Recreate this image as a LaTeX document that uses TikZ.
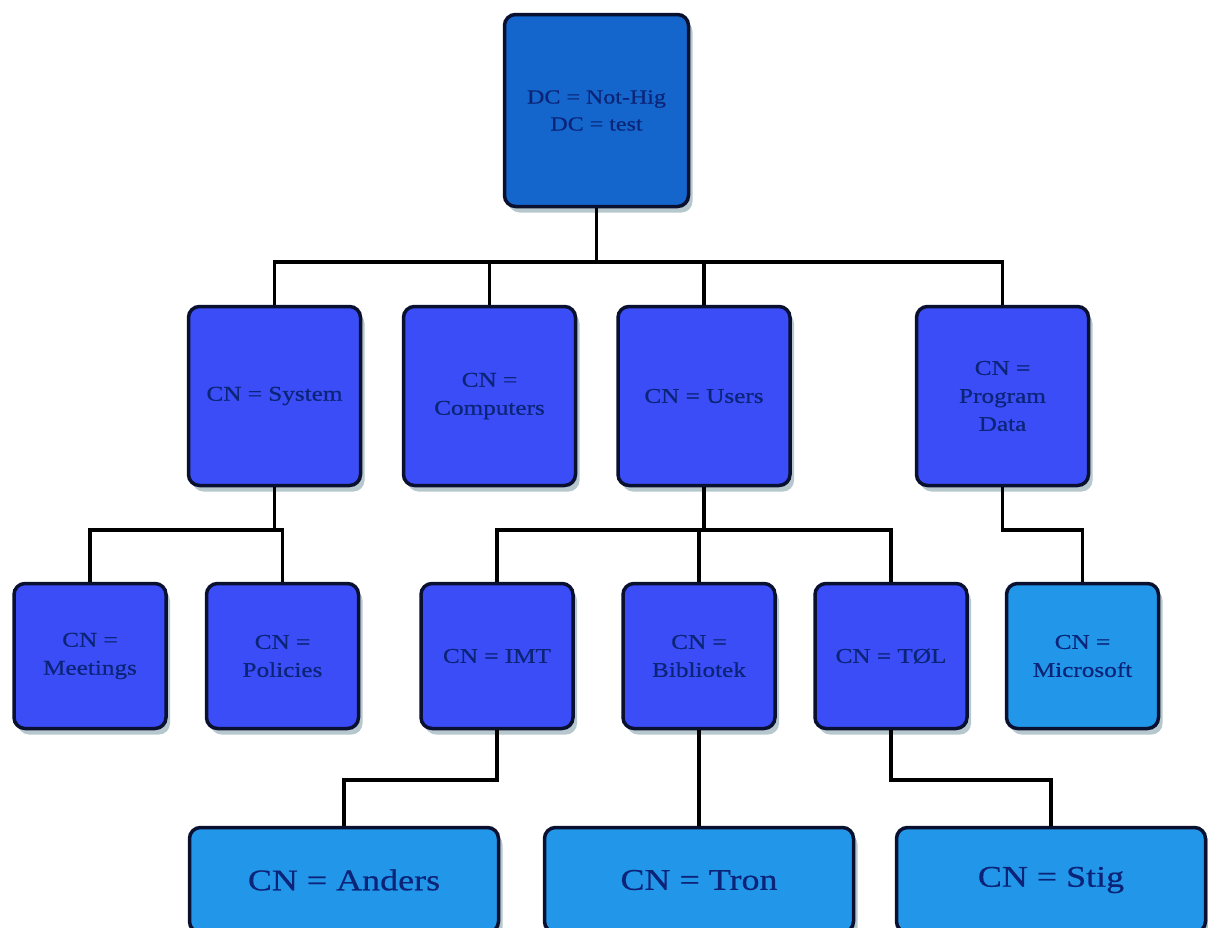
\documentclass[tikz,border=0pt]{standalone}
\usepackage{fontspec}
\setmainfont{Liberation Serif}[FakeStretch=1.2,FakeBold=0.6]
\usetikzlibrary{shadows}

\definecolor{rootblue}{HTML}{1466CC}
\definecolor{midblue}{HTML}{3A4DF6}
\definecolor{leafblue}{HTML}{2297EA}
\definecolor{edgenavy}{HTML}{0A1030}
\definecolor{labelnavy}{HTML}{0B2478}
\definecolor{shade}{HTML}{6F929C}

\begin{document}
\begin{tikzpicture}[x=1pt,y=-1pt,
  box/.style={draw=edgenavy, line width=3.5pt, rounded corners=11pt,
    align=center, text=labelnavy, inner sep=4pt,
    drop shadow={shadow xshift=4pt, shadow yshift=-6pt, fill=shade, opacity=0.5}},
  topbox/.style={box, fill=rootblue, minimum width=184pt, minimum height=192pt,
    font=\fontsize{20}{27}\selectfont},
  midbox/.style={box, fill=midblue, minimum width=172pt, minimum height=179pt,
    font=\fontsize{21}{28}\selectfont},
  lowbox/.style={box, fill=midblue, minimum width=152pt, minimum height=145pt,
    font=\fontsize{21}{28}\selectfont},
  leafbox/.style={box, fill=leafblue, minimum width=152pt, minimum height=145pt,
    font=\fontsize{21}{28}\selectfont},
  userbox/.style={box, fill=leafblue, minimum width=309pt, minimum height=105pt,
    font=\fontsize{30}{36}\selectfont},
  link/.style={draw=black, line width=3.5pt}
]
\fill[white] (0,0) rectangle (1208,927);
\useasboundingbox (0,0) rectangle (1208,927);

% bus heights for the orthogonal connectors
\coordinate (busA) at (0,262);
\coordinate (busB) at (0,530);
\coordinate (busC) at (0,780);

% root
\node[topbox] (root) at (596.5,110.5) {DC = Not-Hig\\DC = test};

% second level
\node[midbox] (sys)  at (274.5,396) {CN = System};
\node[midbox] (comp) at (489.5,396) {CN =\\Computers};
\node[midbox] (usr)  at (704,396)   {CN = Users};
\node[midbox] (prog) at (1002.5,396) {CN =\\Program\\Data};

% third level
\node[lowbox]  (meet) at (90,656)    {CN =\\Meetings};
\node[lowbox]  (pol)  at (282.5,656) {CN =\\Policies};
\node[lowbox]  (imt)  at (497,656)   {CN = IMT};
\node[lowbox]  (bib)  at (699,656)   {CN =\\Bibliotek};
\node[lowbox]  (tol)  at (891,656)   {CN = TØL};
\node[leafbox] (ms)   at (1082.5,656) {CN =\\Microsoft};

% users
\node[userbox] (anders) at (344,880) {CN = Anders};
\node[userbox] (tron)   at (699,880) {CN = Tron};
\node[userbox] (stig)   at (1051,880) {CN = Stig};

% connectors
\foreach \c in {sys,comp,usr,prog}
  \draw[link] (root.south) -- (root.south |- busA) -| (\c.north);
\foreach \c in {meet,pol}
  \draw[link] (sys.south) -- (sys.south |- busB) -| (\c.north);
\foreach \c in {imt,bib,tol}
  \draw[link] (usr.south) -- (usr.south |- busB) -| (\c.north);
\draw[link] (prog.south) -- (prog.south |- busB) -| (ms.north);
\draw[link] (imt.south) -- (imt.south |- busC) -| (anders.north);
\draw[link] (bib.south) -- (tron.north);
\draw[link] (tol.south) -- (tol.south |- busC) -| (stig.north);
\end{tikzpicture}
\end{document}
